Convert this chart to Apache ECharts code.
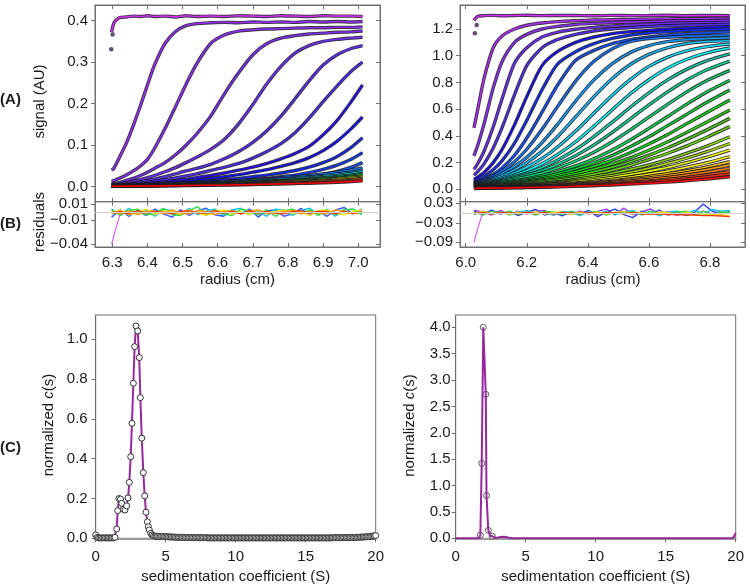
<!DOCTYPE html>
<html><head><meta charset="utf-8">
<script src="https://cdn.jsdelivr.net/npm/echarts@6/dist/echarts.min.js"></script>
<style>html,body{margin:0;padding:0;background:#fff}#c{width:750px;height:588px}</style>
</head><body><div id="c"></div>
<script>
// ---------- (A) left panel: radius grid and scans ----------
const radiusL = [6.298,6.305,6.32,6.34,6.36,6.38,6.40,6.42,6.45,6.48,6.51,6.54,6.58,6.62,6.66,6.70,6.74,6.78,6.82,6.86,6.90,6.94,6.98,7.012];
const L01 = [0.372,0.395,0.407,0.409,0.411,0.410,0.412,0.410,0.411,0.409,0.412,0.410,0.411,0.410,0.412,0.411,0.410,0.412,0.411,0.410,0.412,0.411,0.411,0.410];
const L02 = [0.04,0.045,0.07,0.105,0.148,0.195,0.245,0.293,0.345,0.374,0.388,0.393,0.395,0.396,0.395,0.397,0.396,0.397,0.396,0.398,0.397,0.398,0.397,0.398];
const L03 = [0.013,0.015,0.02,0.028,0.038,0.05,0.066,0.092,0.14,0.193,0.247,0.296,0.345,0.366,0.375,0.378,0.38,0.381,0.382,0.383,0.383,0.384,0.384,0.385];
const L04 = [0.007,0.008,0.01,0.015,0.02,0.027,0.035,0.044,0.058,0.077,0.1,0.127,0.17,0.225,0.275,0.318,0.345,0.358,0.364,0.368,0.37,0.372,0.373,0.375];
const L05 = [0.005,0.006,0.007,0.01,0.013,0.017,0.022,0.027,0.036,0.046,0.058,0.071,0.09,0.115,0.152,0.198,0.248,0.29,0.322,0.34,0.35,0.355,0.358,0.36];
const L06 = [0.004,0.004,0.005,0.007,0.009,0.012,0.015,0.018,0.024,0.031,0.038,0.044,0.054,0.068,0.085,0.107,0.135,0.17,0.212,0.255,0.293,0.318,0.333,0.34];
const L07 = [0.003,0.003,0.004,0.005,0.007,0.009,0.011,0.013,0.017,0.021,0.026,0.031,0.039,0.047,0.056,0.069,0.085,0.104,0.13,0.165,0.205,0.243,0.278,0.3];
const L08 = [0.002,0.002,0.003,0.004,0.005,0.006,0.008,0.009,0.012,0.015,0.018,0.022,0.027,0.033,0.04,0.047,0.056,0.067,0.08,0.097,0.125,0.16,0.205,0.245];
const L09 = [0.002,0.002,0.002,0.003,0.004,0.005,0.006,0.007,0.009,0.011,0.013,0.016,0.02,0.024,0.029,0.035,0.041,0.049,0.058,0.07,0.087,0.11,0.14,0.168];
const L10 = [0.001,0.001,0.002,0.002,0.003,0.004,0.004,0.005,0.006,0.008,0.009,0.011,0.014,0.017,0.02,0.024,0.028,0.033,0.039,0.047,0.058,0.073,0.095,0.118];
const L11 = [0.001,0.001,0.001,0.002,0.002,0.003,0.003,0.004,0.005,0.006,0.007,0.008,0.01,0.012,0.014,0.017,0.02,0.024,0.028,0.034,0.042,0.052,0.066,0.082];
const L12 = [0.001,0.001,0.001,0.001,0.002,0.002,0.002,0.003,0.003,0.004,0.005,0.006,0.007,0.008,0.01,0.012,0.014,0.017,0.02,0.024,0.03,0.037,0.047,0.058];
const L13 = [0.003,0.003,0.003,0.004,0.004,0.005,0.005,0.006,0.007,0.008,0.009,0.010,0.011,0.013,0.015,0.017,0.019,0.021,0.024,0.027,0.031,0.035,0.040,0.045];
const L14 = [0.002,0.003,0.003,0.003,0.004,0.004,0.005,0.005,0.006,0.007,0.008,0.009,0.010,0.011,0.013,0.015,0.017,0.019,0.021,0.024,0.027,0.031,0.035,0.040];
const L15 = [0.0022,0.0023,0.0027,0.0031,0.0034,0.0038,0.0041,0.0047,0.0054,0.0061,0.0068,0.0077,0.009,0.0103,0.0117,0.0133,0.0151,0.0171,0.0193,0.0216,0.0245,0.0277,0.0317,0.036];
const L16 = [0.0019,0.0021,0.0024,0.0027,0.003,0.0034,0.0037,0.0042,0.0048,0.0054,0.0061,0.0069,0.008,0.0091,0.0104,0.0118,0.0134,0.0152,0.0171,0.0192,0.0218,0.0246,0.0282,0.032];
const L17 = [0.0017,0.0019,0.0022,0.0025,0.0028,0.003,0.0033,0.0038,0.0044,0.0049,0.0055,0.0062,0.0073,0.0083,0.0094,0.0107,0.0122,0.0138,0.0155,0.0174,0.0197,0.0223,0.0255,0.029];
const L18 = [0.0016,0.0017,0.002,0.0022,0.0025,0.0027,0.003,0.0034,0.0039,0.0044,0.0049,0.0056,0.0065,0.0074,0.0085,0.0096,0.0109,0.0124,0.0139,0.0156,0.0177,0.02,0.0229,0.026];
const L19 = [0.0014,0.0015,0.0017,0.002,0.0022,0.0024,0.0026,0.003,0.0035,0.0039,0.0044,0.0049,0.0058,0.0066,0.0075,0.0085,0.0097,0.0109,0.0123,0.0138,0.0156,0.0177,0.0202,0.023];
const L20 = [0.0012,0.0013,0.0015,0.0017,0.0019,0.0021,0.0023,0.0026,0.003,0.0034,0.0038,0.0043,0.005,0.0057,0.0065,0.0074,0.0084,0.0095,0.0107,0.012,0.0136,0.0154,0.0176,0.02];
const L21 = [0.001,0.0011,0.0013,0.0014,0.0016,0.0018,0.002,0.0022,0.0026,0.0029,0.0032,0.0037,0.0043,0.0048,0.0055,0.0063,0.0071,0.0081,0.0091,0.0102,0.0116,0.0131,0.015,0.017];
const L22 = [0.0008,0.0009,0.0011,0.0012,0.0013,0.0015,0.0016,0.0018,0.0021,0.0024,0.0027,0.003,0.0035,0.004,0.0046,0.0052,0.0059,0.0067,0.0075,0.0084,0.0095,0.0108,0.0123,0.014];
const meniscusL = [[6.297,0.331],[6.301,0.367]];

// ---------- (A) right panel ----------
const radiusR = [6.027,6.04,6.06,6.09,6.12,6.16,6.2,6.25,6.3,6.36,6.42,6.48,6.54,6.6,6.66,6.72,6.79,6.865];
const R01 = [1.265,1.295,1.3,1.302,1.299,1.301,1.303,1.3,1.302,1.301,1.299,1.302,1.3,1.301,1.303,1.3,1.302,1.3];
const R02 = [0.46,0.605,0.83,1.06,1.15,1.2,1.228,1.245,1.255,1.262,1.267,1.27,1.272,1.274,1.276,1.277,1.278,1.28];
const R03 = [0.25,0.333,0.49,0.758,0.96,1.1,1.16,1.2,1.22,1.234,1.242,1.248,1.252,1.256,1.259,1.261,1.263,1.265];
const R04 = [0.149,0.195,0.285,0.466,0.684,0.945,1.06,1.14,1.175,1.198,1.212,1.222,1.23,1.236,1.241,1.245,1.248,1.25];
const R05 = [0.106,0.135,0.19,0.309,0.467,0.709,0.926,1.06,1.12,1.16,1.185,1.2,1.21,1.218,1.224,1.228,1.232,1.235];
const R06 = [0.074,0.093,0.126,0.2,0.302,0.484,0.694,0.926,1.03,1.1,1.14,1.165,1.18,1.19,1.198,1.205,1.212,1.217];
const R07 = [0.06,0.072,0.096,0.146,0.217,0.346,0.516,0.745,0.936,1.03,1.09,1.13,1.155,1.17,1.18,1.188,1.195,1.2];
const R08 = [0.05,0.06,0.076,0.112,0.162,0.255,0.384,0.577,0.777,0.966,1.04,1.09,1.12,1.14,1.155,1.165,1.172,1.18];
const R09 = [0.046,0.053,0.066,0.101,0.139,0.207,0.3,0.449,0.617,0.81,0.958,1.053,1.107,1.128,1.138,1.145,1.15,1.155];
const R10 = [0.043,0.05,0.062,0.087,0.12,0.172,0.239,0.35,0.484,0.661,0.819,0.941,1.025,1.076,1.105,1.12,1.128,1.135];
const R11 = [0.04,0.046,0.056,0.078,0.102,0.146,0.199,0.286,0.392,0.542,0.694,0.83,0.936,1.01,1.059,1.09,1.106,1.113];
const R12 = [0.037,0.042,0.05,0.068,0.088,0.123,0.165,0.231,0.315,0.436,0.571,0.705,0.823,0.92,0.988,1.035,1.068,1.088];
const R13 = [0.034,0.039,0.046,0.061,0.078,0.106,0.14,0.191,0.259,0.356,0.473,0.596,0.717,0.82,0.906,0.97,1.022,1.058];
const R14 = [0.032,0.036,0.043,0.056,0.071,0.094,0.121,0.163,0.218,0.298,0.395,0.503,0.616,0.722,0.817,0.894,0.963,1.014];
const R15 = [0.03,0.034,0.04,0.052,0.065,0.085,0.107,0.142,0.186,0.252,0.333,0.427,0.529,0.632,0.728,0.813,0.895,0.96];
const R16 = [0.028,0.032,0.037,0.048,0.059,0.076,0.094,0.122,0.159,0.212,0.278,0.356,0.446,0.54,0.634,0.724,0.814,0.89];
const R17 = [0.026,0.029,0.034,0.043,0.052,0.064,0.079,0.103,0.131,0.175,0.229,0.294,0.371,0.456,0.543,0.632,0.729,0.817];
const R18 = [0.024,0.027,0.031,0.038,0.046,0.057,0.071,0.09,0.117,0.153,0.199,0.254,0.32,0.393,0.475,0.556,0.651,0.743];
const R19 = [0.022,0.025,0.028,0.034,0.041,0.051,0.062,0.079,0.101,0.134,0.173,0.219,0.276,0.339,0.408,0.486,0.575,0.668];
const R20 = [0.02,0.023,0.026,0.031,0.037,0.045,0.055,0.07,0.088,0.116,0.151,0.189,0.237,0.292,0.354,0.422,0.504,0.594];
const R21 = [0.018,0.021,0.024,0.028,0.033,0.04,0.049,0.062,0.077,0.1,0.131,0.165,0.207,0.256,0.309,0.37,0.445,0.531];
const R22 = [0.017,0.019,0.022,0.025,0.03,0.036,0.043,0.054,0.067,0.087,0.112,0.143,0.18,0.222,0.268,0.321,0.39,0.469];
const R23 = [0.015,0.017,0.019,0.022,0.026,0.031,0.037,0.046,0.057,0.074,0.095,0.12,0.15,0.183,0.222,0.267,0.323,0.393];
const R24 = [0.014,0.015,0.017,0.02,0.023,0.028,0.033,0.041,0.05,0.064,0.082,0.103,0.128,0.158,0.193,0.231,0.282,0.343];
const R25 = [0.013,0.014,0.016,0.018,0.021,0.025,0.03,0.036,0.044,0.056,0.071,0.089,0.11,0.135,0.163,0.197,0.241,0.294];
const R26 = [0.012,0.013,0.014,0.016,0.019,0.022,0.026,0.032,0.039,0.048,0.06,0.075,0.092,0.113,0.135,0.163,0.199,0.245];
const R27 = [0.011,0.012,0.013,0.015,0.017,0.02,0.023,0.028,0.034,0.042,0.052,0.065,0.079,0.096,0.116,0.138,0.168,0.207];
const R28 = [0.01,0.011,0.012,0.014,0.016,0.018,0.021,0.025,0.03,0.038,0.047,0.058,0.071,0.085,0.102,0.122,0.149,0.182];
const R29 = [0.009,0.01,0.011,0.013,0.014,0.016,0.019,0.022,0.027,0.034,0.042,0.051,0.062,0.074,0.088,0.105,0.128,0.157];
const R30 = [0.008,0.009,0.01,0.011,0.013,0.015,0.017,0.02,0.024,0.03,0.036,0.044,0.053,0.063,0.075,0.089,0.108,0.132];
const R31 = [0.007,0.008,0.009,0.01,0.011,0.013,0.015,0.018,0.021,0.026,0.031,0.038,0.046,0.055,0.065,0.077,0.094,0.114];
const R32 = [0.006,0.007,0.008,0.009,0.01,0.011,0.013,0.015,0.018,0.022,0.027,0.032,0.039,0.046,0.054,0.064,0.077,0.094];
const meniscusR = [[6.03,1.168],[6.036,1.23]];

// ---------- (B) residuals ----------
const resRadiusL = [6.298,6.323,6.347,6.372,6.396,6.421,6.445,6.47,6.494,6.519,6.543,6.568,6.592,6.617,6.641,6.666,6.69,6.715,6.739,6.764,6.788,6.813,6.837,6.862,6.886,6.911,6.935,6.96,6.985,7.01];
const resL_blue   = [-0.006,0.003,-0.005,0.002,-0.004,0.004,-0.002,-0.006,0.003,-0.004,0.002,0.005,-0.003,-0.005,0.003,-0.002,0.004,-0.006,0.002,0.003,-0.005,-0.002,0.005,-0.003,0.002,-0.005,0.003,0.006,-0.002,0.004];
const resL_cyan   = [0.004,-0.004,0.005,-0.002,0.003,-0.005,0.004,0.002,-0.004,0.005,-0.003,0.002,0.004,-0.004,0.003,0.005,-0.003,0.002,-0.005,0.004,0.003,-0.004,0.002,0.005,-0.003,0.004,-0.005,0.003,0.004,-0.003];
const resL_green  = [0.003,-0.004,0.002,0.004,-0.003,-0.002,0.005,-0.003,-0.004,0.002,0.007,-0.003,0.003,-0.002,-0.004,0.004,0.002,-0.003,0.003,-0.005,0.002,0.004,-0.002,0.003,-0.004,0.002,-0.003,0.003,0.004,-0.002];
const resL_yellow = [-0.002,0.003,-0.003,-0.001,0.004,-0.003,0.002,0.001,-0.003,0.003,-0.001,-0.004,0.001,0.003,-0.002,0.001,-0.003,0.003,-0.001,0.001,0.003,-0.002,0.001,-0.004,0.002,0.003,-0.001,-0.003,0.001,0.003];
const resL_orange = [0.001,-0.002,0.002,-0.003,0.001,0.002,-0.002,0.003,-0.001,-0.002,0.002,0.001,-0.003,0.001,0.002,-0.002,0.001,0.003,-0.002,-0.001,0.001,0.002,-0.002,0.001,-0.001,-0.002,0.003,0.001,-0.002,0.001];
const resL_red    = [-0.001,0.001,-0.002,0.002,-0.001,0.001,0.0,-0.002,0.001,0.002,-0.001,-0.001,0.002,-0.001,0.001,-0.002,0.002,-0.001,0.001,-0.001,-0.002,0.001,0.002,-0.001,0.001,0.001,-0.002,0.001,-0.001,0.0];
const resL_first  = [[6.298,-0.04],[6.31,-0.02],[6.322,-0.003]];

const resRadiusR = [6.027,6.056,6.085,6.114,6.143,6.172,6.2,6.229,6.258,6.287,6.316,6.345,6.374,6.403,6.432,6.461,6.489,6.518,6.547,6.576,6.605,6.634,6.663,6.692,6.721,6.75,6.778,6.807,6.836,6.865];
const resR_purple = [0.009,0.003,-0.006,0.008,-0.005,0.006,-0.003,0.005,0.008,-0.006,0.003,-0.005,0.006,-0.003,0.005,0.012,-0.006,0.015,-0.005,0.003,0.013,-0.003,0.005,-0.008,0.003,-0.005,0.006,-0.003,0.005,-0.002];
const resR_blue   = [0.006,-0.005,0.009,-0.003,0.005,-0.008,0.003,0.011,-0.006,0.002,-0.009,0.005,-0.003,0.008,-0.011,0.003,0.012,-0.005,-0.014,0.006,-0.003,0.009,-0.006,0.005,-0.008,0.003,0.028,0.006,-0.003,0.005];
const resR_cyan   = [-0.005,0.006,-0.003,0.005,-0.006,0.003,0.008,-0.005,0.003,-0.006,0.005,0.002,-0.008,0.005,-0.003,0.006,-0.005,0.003,0.008,-0.006,0.005,-0.009,0.003,0.006,-0.005,0.009,-0.003,0.011,0.006,0.008];
const resR_green  = [0.003,-0.006,0.005,-0.002,0.006,-0.005,0.003,-0.006,0.005,0.003,-0.005,0.006,-0.003,0.002,0.005,-0.006,0.003,-0.003,0.005,-0.005,0.006,-0.002,-0.005,0.003,0.006,-0.003,0.005,-0.005,0.003,0.002];
const resR_yellow = [-0.003,0.005,-0.002,0.003,-0.005,0.003,-0.002,0.005,-0.003,0.002,0.003,-0.005,0.003,-0.002,0.003,-0.003,0.002,0.005,-0.003,0.002,-0.003,0.003,0.002,-0.005,0.003,-0.002,-0.003,-0.005,-0.006,-0.008];
const resR_red    = [-0.002,0.002,-0.003,0.002,0.0,-0.002,0.003,-0.002,0.002,-0.003,0.002,0.0,-0.002,0.002,-0.003,0.002,0.0,-0.002,0.002,-0.003,-0.002,-0.003,-0.005,-0.005,-0.006,-0.006,-0.008,-0.008,-0.009,-0.011];
const resR_first  = [[6.027,-0.09],[6.04,-0.045],[6.054,-0.004]];

// ---------- (C) c(s) distributions [s, c(s)] ----------
const csLeftPoints = [[0.0,0.017],[0.1,0.004],[0.2,0.002],[0.3,0.002],[0.4,0.002],[0.5,0.002],[0.6,0.002],[0.7,0.002],[0.8,0.002],[0.9,0.002],[1.0,0.002],[1.1,0.002],[1.2,0.002],[1.3,0.002],
 [1.38,0.005],[1.5,0.047],[1.57,0.139],[1.66,0.2],[1.78,0.197],[1.86,0.176],[1.97,0.146],[2.09,0.142],[2.21,0.163],[2.31,0.203],[2.4,0.281],[2.5,0.41],[2.59,0.578],[2.69,0.779],[2.78,0.963],[2.88,1.067],[3.0,1.042],[3.11,0.908],[3.19,0.707],[3.29,0.503],[3.4,0.33],[3.5,0.213],[3.59,0.131],[3.69,0.083],[3.76,0.058],[3.83,0.042],[3.93,0.025],[4.02,0.017],[4.12,0.013],[4.22,0.011],
 [4.3,0.010],[4.4,0.010],[4.5,0.009],[4.6,0.009],[4.7,0.009],[4.8,0.009],[4.9,0.008],
 [5.0,0.008],[5.1,0.008],[5.2,0.007],[5.3,0.007],[5.4,0.007],[5.5,0.006],[5.6,0.006],[5.7,0.006],[5.8,0.005],[5.9,0.005],
 [6.0,0.005],[6.1,0.005],[6.2,0.005],[6.3,0.004],[6.4,0.004],[6.5,0.004],[6.6,0.004],[6.7,0.004],[6.8,0.004],[6.9,0.003],
 [7.0,0.003],[7.1,0.003],[7.2,0.003],[7.3,0.003],[7.4,0.003],[7.5,0.003],[7.6,0.003],[7.7,0.003],[7.8,0.003],[7.9,0.003],
 [8.0,0.002],[8.1,0.002],[8.2,0.002],[8.3,0.002],[8.4,0.002],[8.5,0.002],[8.6,0.002],[8.7,0.002],[8.8,0.002],[8.9,0.002],
 [9.0,0.002],[9.1,0.002],[9.2,0.002],[9.3,0.002],[9.4,0.002],[9.5,0.002],[9.6,0.002],[9.7,0.002],[9.8,0.002],[9.9,0.002],
 [10.0,0.002],[10.1,0.002],[10.2,0.002],[10.3,0.002],[10.4,0.002],[10.5,0.002],[10.6,0.002],[10.7,0.002],[10.8,0.002],[10.9,0.002],
 [11.0,0.002],[11.1,0.002],[11.2,0.002],[11.3,0.002],[11.4,0.002],[11.5,0.002],[11.6,0.002],[11.7,0.002],[11.8,0.002],[11.9,0.002],
 [12.0,0.002],[12.1,0.002],[12.2,0.002],[12.3,0.002],[12.4,0.002],[12.5,0.002],[12.6,0.002],[12.7,0.002],[12.8,0.002],[12.9,0.002],
 [13.0,0.002],[13.1,0.002],[13.2,0.002],[13.3,0.002],[13.4,0.002],[13.5,0.002],[13.6,0.002],[13.7,0.002],[13.8,0.002],[13.9,0.002],
 [14.0,0.002],[14.1,0.002],[14.2,0.002],[14.3,0.002],[14.4,0.002],[14.5,0.002],[14.6,0.002],[14.7,0.002],[14.8,0.002],[14.9,0.002],
 [15.0,0.002],[15.1,0.002],[15.2,0.002],[15.3,0.002],[15.4,0.002],[15.5,0.002],[15.6,0.002],[15.7,0.002],[15.8,0.002],[15.9,0.002],
 [16.0,0.002],[16.1,0.002],[16.2,0.002],[16.3,0.002],[16.4,0.002],[16.5,0.002],[16.6,0.002],[16.7,0.002],[16.8,0.002],[16.9,0.002],
 [17.0,0.003],[17.1,0.003],[17.2,0.003],[17.3,0.003],[17.4,0.003],[17.5,0.003],[17.6,0.003],[17.7,0.003],[17.8,0.003],[17.9,0.003],
 [18.0,0.003],[18.1,0.004],[18.2,0.004],[18.3,0.004],[18.4,0.004],[18.5,0.005],[18.6,0.005],[18.7,0.005],[18.8,0.005],[18.9,0.006],
 [19.0,0.006],[19.1,0.006],[19.2,0.007],[19.3,0.007],[19.4,0.008],[19.5,0.008],[19.6,0.009],[19.7,0.010],[19.8,0.011],[19.9,0.012],[20.0,0.014]];
const csRightLine = [[0,0],[0.5,0],[1.0,0],[1.5,0],[1.66,0],[1.76,0.06],[1.86,1.42],[1.97,4.0],[2.15,2.73],[2.2,0.81],[2.33,0.15],[2.45,0.05],[2.61,0.04],[2.8,0.01],[3.0,0.012],[3.2,0.025],[3.4,0.03],[3.6,0.025],[3.8,0.012],[4.0,0.005],[4.5,0.001],[5,0],[10,0],[15,0],[19.7,0],[19.85,0.02],[20,0.1]];
const csRightPoints = [[1.76,0.06],[1.86,1.42],[1.97,4.0],[2.15,2.73],[2.2,0.81],[2.33,0.15],[2.61,0.04]];

// ---------- tick values ----------
const ticksRadiusL = [6.3,6.4,6.5,6.6,6.7,6.8,6.9,7.0];
const ticksRadiusR = [6.0,6.2,6.4,6.6,6.8];
const ticksSignalL = [0,0.1,0.2,0.3,0.4];
const ticksSignalR = [0,0.2,0.4,0.6,0.8,1.0,1.2];
const ticksResL = [0.01,-0.01,-0.04];
const ticksResR = [0.03,-0.03,-0.09];
const ticksS = [0,5,10,15,20];
const ticksCsL = [0,0.2,0.4,0.6,0.8,1.0];
const ticksCsR = [0,0.5,1.0,1.5,2.0,2.5,3.0,3.5,4.0];

// ---------- rendering ----------
const FONT = '"Liberation Sans", Arial, Helvetica, sans-serif';
const AX = '#6e6e6e';
const leftScans = [L01,L02,L03,L04,L05,L06,L07,L08,L09,L10,L11,L12,L13,L14,L15,L16,L17,L18,L19,L20,L21,L22];
const rightScans = [R01,R02,R03,R04,R05,R06,R07,R08,R09,R10,R11,R12,R13,R14,R15,R16,R17,R18,R19,R20,R21,R22,R23,R24,R25,R26,R27,R28,R29,R30,R31,R32];
const leftHues = [290,272,268,264,260,254,250,246,240,234,228,222,212,195,178,150,120,85,55,35,18,0];
function hueColor(h){
  let l = 50;
  if (h >= 250) l = 58; else if (h >= 195) l = 52; else if (h >= 70 && h <= 170) l = 43;
  return 'hsl(' + h.toFixed(0) + ',100%,' + l + '%)';
}
const f1 = v => (v < 0 ? '\u2212' : '') + Math.abs(v).toFixed(1);
const f2 = v => (v < 0 ? '\u2212' : '') + Math.abs(v).toFixed(2);

const gridDefs = [
  {left:95, top:5, width:285, height:196.7},
  {left:95, top:201.7, width:285, height:45.3},
  {left:460, top:5, width:285, height:196.7},
  {left:460, top:201.7, width:285, height:45.3},
  {left:95.7, top:315, width:280, height:223.3},
  {left:455.7, top:315, width:280, height:223.3}
];
const grid = gridDefs.map(g => Object.assign({show:true, borderColor:AX, borderWidth:1, backgroundColor:'transparent', containLabel:false, outerBoundsMode:'none'}, g));

function axis(o){
  return {
    type:'value', gridIndex:o.g, position:o.pos, min:o.min, max:o.max, scale:true,
    axisLine:{show:true, onZero:false, lineStyle:{color:o.lc || AX, width:o.lw || 1}},
    axisTick:{show:!!o.ticks, inside:!!o.inside, length:4, customValues:o.ticks || [], lineStyle:{color:AX}},
    axisLabel: o.labels ? {show:true, customValues:o.ticks, formatter:o.fmt, margin:o.margin || 7,
      color:'#1a1a1a', fontSize:o.fs || 15, fontFamily:FONT} : {show:false},
    splitLine:{show:false}
  };
}
const xL = [6.2508, 7.0618], xR = [5.9813, 6.9146];
const xAxis = [
  axis({g:0,pos:'bottom',min:xL[0],max:xL[1],ticks:ticksRadiusL,inside:true}),
  axis({g:1,pos:'bottom',min:xL[0],max:xL[1],ticks:ticksRadiusL,inside:true,labels:true,fmt:f1,margin:8}),
  axis({g:2,pos:'bottom',min:xR[0],max:xR[1],ticks:ticksRadiusR,inside:true}),
  axis({g:3,pos:'bottom',min:xR[0],max:xR[1],ticks:ticksRadiusR,inside:true,labels:true,fmt:f1,margin:8}),
  axis({g:4,pos:'bottom',min:0,max:20,ticks:ticksS,labels:true,fmt:v=>String(v),margin:11,lc:'#9a9a9a',lw:2}),
  axis({g:5,pos:'bottom',min:0,max:20,ticks:ticksS,labels:true,fmt:v=>String(v),margin:11,lc:'#9a9a9a',lw:2}),
  axis({g:0,pos:'top',min:xL[0],max:xL[1],ticks:ticksRadiusL,inside:true}),
  axis({g:1,pos:'top',min:xL[0],max:xL[1],ticks:ticksRadiusL,inside:true}),
  axis({g:2,pos:'top',min:xR[0],max:xR[1],ticks:ticksRadiusR,inside:true}),
  axis({g:3,pos:'top',min:xR[0],max:xR[1],ticks:ticksRadiusR,inside:true})
];
const yAxis = [
  axis({g:0,pos:'left',min:-0.0361,max:0.4378,ticks:ticksSignalL,labels:true,fmt:f1}),
  axis({g:1,pos:'left',min:-0.0434,max:0.01325,ticks:ticksResL,labels:true,fmt:f2}),
  axis({g:2,pos:'left',min:-0.0928,max:1.3797,ticks:ticksSignalR,labels:true,fmt:f1}),
  axis({g:3,pos:'left',min:-0.1045,max:0.0349,ticks:ticksResR,labels:true,fmt:f2}),
  axis({g:4,pos:'left',min:0,max:1.1221,ticks:ticksCsL,labels:true,fmt:f1,margin:8}),
  axis({g:5,pos:'left',min:0,max:4.233,ticks:ticksCsR,labels:true,fmt:f1,margin:5}),
  axis({g:0,pos:'right',min:-0.0361,max:0.4378,ticks:ticksSignalL,inside:true}),
  axis({g:1,pos:'right',min:-0.0434,max:0.01325,ticks:ticksResL,inside:true}),
  axis({g:2,pos:'right',min:-0.0928,max:1.3797,ticks:ticksSignalR,inside:true}),
  axis({g:3,pos:'right',min:-0.1045,max:0.0349,ticks:ticksResR,inside:true})
];

const series = [];
function addScan(g, xs, ys, color){
  const data = xs.map((x,i) => [x, ys[i]]);
  series.push({type:'line', xAxisIndex:g, yAxisIndex:g, data, showSymbol:false, smooth:0.25, silent:true,
    lineStyle:{color:'rgba(30,26,38,0.88)', width:3.4}});
  series.push({type:'line', xAxisIndex:g, yAxisIndex:g, data, showSymbol:false, smooth:0.25, silent:true,
    lineStyle:{color, width:1.5}});
}
leftScans.forEach((ys,i) => addScan(0, radiusL, ys, hueColor(leftHues[i])));
rightScans.forEach((ys,i) => addScan(2, radiusR, ys, hueColor(288 - 288*i/(rightScans.length-1))));
series.push({type:'scatter', xAxisIndex:0, yAxisIndex:0, data:meniscusL, symbolSize:4.5, silent:true, itemStyle:{color:'#3c1f4c'}});
series.push({type:'scatter', xAxisIndex:2, yAxisIndex:2, data:meniscusR, symbolSize:4.5, silent:true, itemStyle:{color:'#3c1f4c'}});

function addRes(g, xs, ys, color, withZero){
  const s = {type:'line', xAxisIndex:g, yAxisIndex:g, data:xs.map((x,i)=>[x, ys[i]]), showSymbol:false, silent:true,
    lineStyle:{color, width:1.4}};
  if (withZero) s.markLine = {silent:true, symbol:'none', label:{show:false}, animation:false,
    lineStyle:{color:'#cfcfcf', type:'solid', width:1}, data:[{yAxis:0}]};
  series.push(s);
}
addRes(1, resRadiusL, resL_blue, '#2f55ff', true);
addRes(1, resRadiusL, resL_cyan, '#00c8f0');
addRes(1, resRadiusL, resL_green, '#2edc3a');
addRes(1, resRadiusL, resL_yellow, '#f4e000');
addRes(1, resRadiusL, resL_orange, '#ff9200');
addRes(1, resRadiusL, resL_red, '#ff3a00');
series.push({type:'line', xAxisIndex:1, yAxisIndex:1, data:resL_first, showSymbol:false, silent:true, lineStyle:{color:'#d040ff', width:1}});
addRes(3, resRadiusR, resR_purple, '#9a38ff', true);
addRes(3, resRadiusR, resR_blue, '#2a3cff');
addRes(3, resRadiusR, resR_cyan, '#00c8e8');
addRes(3, resRadiusR, resR_green, '#3ad83a');
addRes(3, resRadiusR, resR_yellow, '#f2d200');
addRes(3, resRadiusR, resR_red, '#ff3c00');
series.push({type:'line', xAxisIndex:3, yAxisIndex:3, data:resR_first, showSymbol:false, silent:true, lineStyle:{color:'#d040ff', width:1}});

const PURPLE = '#95289c';
series.push({type:'line', xAxisIndex:4, yAxisIndex:4, data:csLeftPoints, symbol:'circle', symbolSize:6, showSymbol:true, silent:true,
  lineStyle:{color:PURPLE, width:2}, itemStyle:{color:'#ffffff', borderColor:'#333', borderWidth:1}});
series.push({type:'line', xAxisIndex:5, yAxisIndex:5, data:csRightLine, showSymbol:false, silent:true, lineStyle:{color:PURPLE, width:2}});
series.push({type:'scatter', xAxisIndex:5, yAxisIndex:5, data:csRightPoints, symbol:'circle', symbolSize:6, silent:true,
  itemStyle:{color:'#ffffff', borderColor:'#333', borderWidth:1}});

function txt(x, y, text, o){
  o = o || {};
  return {type:'text', x, y, rotation:o.rot ? Math.PI/2 : 0, silent:true, z:100,
    style:{text, x:0, y:0, align:'center', verticalAlign:'middle', fill:'#1a1a1a',
      fontSize:15, fontFamily:FONT, fontWeight:o.bold ? 'bold' : 'normal',
      rich:{i:{fontStyle:'italic', fontSize:15, fontFamily:FONT, fill:'#1a1a1a'}, n:{fontSize:15, fontFamily:FONT, fill:'#1a1a1a'}}}};
}
const graphic = [
  txt(10.5, 100, '(A)', {bold:true}),
  txt(10.5, 224, '(B)', {bold:true}),
  txt(10.5, 448, '(C)', {bold:true}),
  txt(40, 101.5, 'signal (AU)', {rot:true}),
  txt(39.5, 222, 'residuals', {rot:true}),
  txt(237.5, 280, 'radius (cm)'),
  txt(603, 280, 'radius (cm)'),
  txt(49, 425, '{n|normalized }{i|c}{n|(s)}', {rot:true}),
  txt(410, 425.5, '{n|normalized }{i|c}{n|(s)}', {rot:true}),
  txt(235.7, 577, 'sedimentation coefficient (S)'),
  txt(595.7, 577, 'sedimentation coefficient (S)')
];

const chart = echarts.init(document.getElementById('c'), null, {renderer:'canvas', width:750, height:588});
chart.setOption({animation:false, backgroundColor:'#ffffff', grid, xAxis, yAxis, series, graphic});
</script>
</body></html>
